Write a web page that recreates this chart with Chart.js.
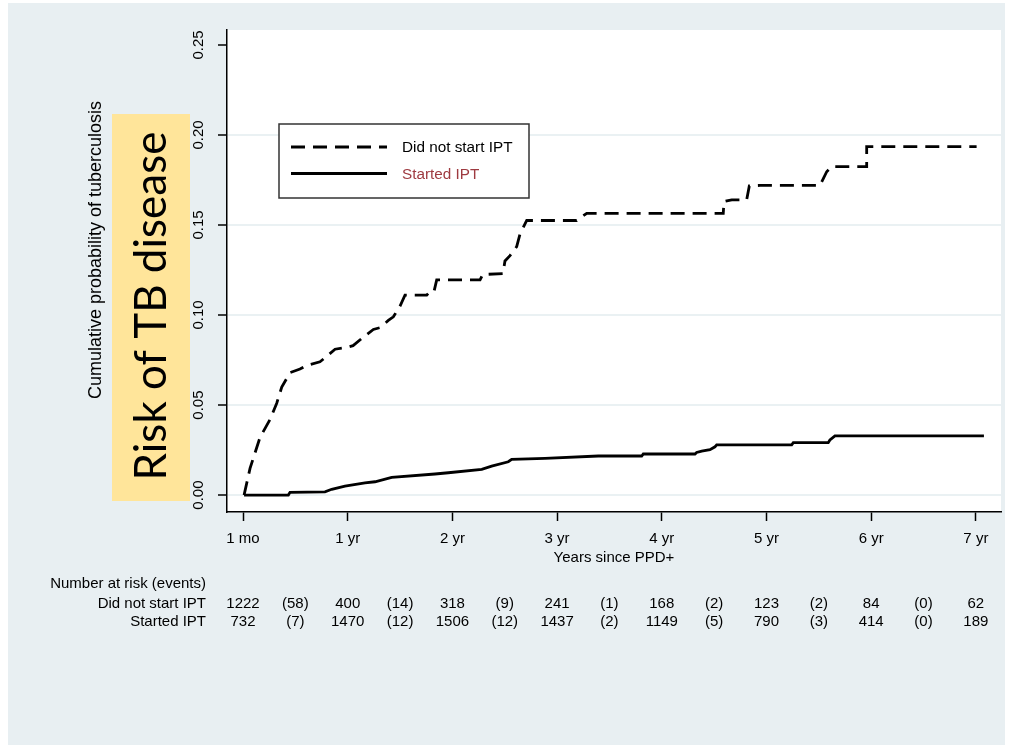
<!DOCTYPE html>
<html>
<head>
<meta charset="utf-8">
<script src="https://cdn.jsdelivr.net/npm/chart.js@4.4.1/dist/chart.umd.min.js"></script>
<style>
  html, body { margin: 0; padding: 0; background: #ffffff; }
  canvas { display: block; }
</style>
</head>
<body>
<canvas id="km" width="1015" height="747"></canvas>
<script>
// Axis ticks (x in years after the 1-month landmark)
const xTickValues = [0, 1, 2, 3, 4, 5, 6, 7];
const xTickLabels = ['1 mo', '1 yr', '2 yr', '3 yr', '4 yr', '5 yr', '6 yr', '7 yr'];
const yTickValues = [0, 0.05, 0.10, 0.15, 0.20, 0.25];
const yTickLabels = ['0.00', '0.05', '0.10', '0.15', '0.20', '0.25'];

const seriesNames = ['Did not start IPT', 'Started IPT'];

// Cumulative incidence, no IPT
const noIptTime = [0.01, 0.067, 0.162, 0.258, 0.322, 0.370, 0.449, 0.544, 0.608, 0.735, 0.799, 0.879, 0.990, 1.051, 1.134, 1.245, 1.309, 1.388, 1.436, 1.500, 1.547, 1.691, 1.755, 1.786, 1.824, 1.850, 2.264, 2.290, 2.483, 2.502, 2.550, 2.614, 2.646, 2.710, 3.187, 3.235, 3.283, 4.587, 4.594, 4.668, 4.811, 4.836, 4.938, 5.511, 5.575, 5.623, 5.957, 5.957, 7.007];
const noIptRisk = [0.000, 0.0148, 0.032, 0.042, 0.051, 0.060, 0.068, 0.070, 0.072, 0.074, 0.077, 0.081, 0.082, 0.083, 0.087, 0.092, 0.093, 0.097, 0.099, 0.105, 0.111, 0.111, 0.1111, 0.113, 0.113, 0.1195, 0.1195, 0.1225, 0.123, 0.130, 0.133, 0.138, 0.145, 0.1525, 0.1525, 0.1545, 0.1565, 0.1565, 0.163, 0.164, 0.164, 0.1717, 0.172, 0.172, 0.1796, 0.1824, 0.1824, 0.1935, 0.1935];

// Cumulative incidence, started IPT
const iptTime = [0.01, 0.433, 0.449, 0.783, 0.847, 0.974, 1.165, 1.261, 1.420, 1.834, 1.961, 2.280, 2.375, 2.534, 2.566, 2.884, 3.394, 3.808, 3.823, 4.317, 4.333, 4.381, 4.460, 4.508, 4.524, 5.241, 5.256, 5.590, 5.606, 5.654, 7.077];
const iptRisk = [0.000, 0.000, 0.0015, 0.0018, 0.0032, 0.005, 0.0068, 0.0074, 0.0098, 0.0117, 0.0124, 0.0143, 0.0161, 0.0185, 0.0198, 0.0204, 0.0217, 0.0217, 0.0228, 0.0228, 0.0237, 0.0244, 0.0252, 0.0268, 0.0279, 0.0279, 0.0291, 0.0291, 0.0306, 0.0329, 0.0329];

// Number-at-risk table
const riskTimes = [0, 1, 2, 3, 4, 5, 6, 7];
const eventTimes = [0.5, 1.5, 2.5, 3.5, 4.5, 5.5, 6.5];
const noIptAtRisk = [1222, 400, 318, 241, 168, 123, 84, 62];
const noIptEvents = [58, 14, 9, 1, 2, 2, 0];
const iptAtRisk = [732, 1470, 1506, 1437, 1149, 790, 414, 189];
const iptEvents = [7, 12, 12, 2, 5, 3, 0];

const SANS = '"Liberation Sans", Arial, Helvetica, sans-serif';
const GRID = '#EAF1F3';
const OUTER = '#E8EFF2';

function toPoints(t, v) { return t.map((x, i) => ({ x: x, y: v[i] })); }

const pagePlugin = {
  id: 'pagePlugin',
  beforeDraw(chart) {
    const { ctx, chartArea: a } = chart;
    ctx.save();
    ctx.fillStyle = '#ffffff';
    ctx.fillRect(0, 0, chart.width, chart.height);
    ctx.fillStyle = OUTER;
    ctx.fillRect(8, 3, 997, 742);
    ctx.fillStyle = '#ffffff';
    ctx.fillRect(a.left, a.top, a.right - a.left, a.bottom - a.top);
    ctx.restore();
  },
  afterDraw(chart) {
    const { ctx, scales: { x, y } } = chart;
    ctx.save();

    // y tick labels, written vertically
    ctx.fillStyle = '#000';
    ctx.font = '15px ' + SANS;
    ctx.textAlign = 'center';
    ctx.textBaseline = 'middle';
    yTickValues.forEach((v, i) => {
      ctx.save();
      ctx.translate(199, y.getPixelForValue(v));
      ctx.rotate(-Math.PI / 2);
      ctx.fillText(yTickLabels[i], 0, 0);
      ctx.restore();
    });

    // y axis title
    ctx.save();
    ctx.translate(96, 250);
    ctx.rotate(-Math.PI / 2);
    ctx.font = '18px ' + SANS;
    ctx.fillText('Cumulative probability of tuberculosis', 0, 0);
    ctx.restore();

    // highlighted annotation
    ctx.fillStyle = '#FFE59A';
    ctx.fillRect(112, 114, 78, 387);
    ctx.save();
    ctx.translate(152, 306);
    ctx.rotate(-Math.PI / 2);
    ctx.fillStyle = '#000';
    ctx.font = '44px Lato, "Open Sans", sans-serif';
    ctx.textAlign = 'center';
    ctx.textBaseline = 'middle';
    ctx.fillText('Risk of TB disease', 0, 0);
    ctx.restore();

    // legend
    ctx.fillStyle = '#ffffff';
    ctx.fillRect(279, 124, 250, 74);
    ctx.strokeStyle = '#333';
    ctx.lineWidth = 1.5;
    ctx.strokeRect(279, 124, 250, 74);
    const rows = [147, 173.5];
    const colors = ['#000000', '#9E3A40'];
    chart.data.datasets.forEach((ds, i) => {
      ctx.beginPath();
      ctx.strokeStyle = ds.borderColor;
      ctx.lineWidth = ds.borderWidth;
      ctx.setLineDash(ds.borderDash || []);
      ctx.moveTo(291, rows[i]);
      ctx.lineTo(387, rows[i]);
      ctx.stroke();
      ctx.setLineDash([]);
      ctx.fillStyle = colors[i];
      ctx.font = '15.3px ' + SANS;
      ctx.textAlign = 'left';
      ctx.textBaseline = 'middle';
      ctx.fillText(ds.label, 402, rows[i] + 1);
    });

    // number at risk table
    ctx.fillStyle = '#000';
    ctx.font = '15px ' + SANS;
    ctx.textBaseline = 'middle';
    ctx.textAlign = 'right';
    ctx.fillText('Number at risk (events)', 206, 584);
    ctx.fillText(seriesNames[0], 206, 604);
    ctx.fillText(seriesNames[1], 206, 622);
    ctx.textAlign = 'center';
    riskTimes.forEach((t, i) => {
      const px = x.getPixelForValue(t);
      ctx.fillText(String(noIptAtRisk[i]), px, 604);
      ctx.fillText(String(iptAtRisk[i]), px, 622);
    });
    eventTimes.forEach((t, i) => {
      const px = x.getPixelForValue(t);
      ctx.fillText('(' + noIptEvents[i] + ')', px, 604);
      ctx.fillText('(' + iptEvents[i] + ')', px, 622);
    });
    ctx.restore();
  }
};

Chart.defaults.color = '#000';

new Chart(document.getElementById('km'), {
  type: 'line',
  data: {
    datasets: [
      {
        label: seriesNames[0],
        data: toPoints(noIptTime, noIptRisk),
        borderColor: '#000000',
        borderWidth: 2.8,
        borderDash: [14, 8],
        pointRadius: 0,
        fill: false
      },
      {
        label: seriesNames[1],
        data: toPoints(iptTime, iptRisk),
        borderColor: '#000000',
        borderWidth: 2.8,
        pointRadius: 0,
        fill: false
      }
    ]
  },
  options: {
    responsive: false,
    animation: false,
    layout: { padding: { left: 0, top: 30, right: 14, bottom: 175 } },
    plugins: { legend: { display: false }, tooltip: { enabled: false } },
    elements: { line: { tension: 0 } },
    scales: {
      x: {
        type: 'linear',
        min: -0.153,
        max: 7.24,
        afterBuildTicks: s => { s.ticks = xTickValues.map(v => ({ value: v })); },
        afterFit: s => { s.height = 60; },
        grid: { drawOnChartArea: false, drawTicks: true, tickLength: 9, tickColor: '#000', tickWidth: 1.5 },
        border: { display: true, color: '#000', width: 1.5 },
        ticks: {
          padding: 9, color: '#000', maxRotation: 0, autoSkip: false,
          font: { family: SANS, size: 15 },
          callback: v => xTickLabels[xTickValues.indexOf(v)]
        },
        title: {
          display: true, text: 'Years since PPD+', color: '#000',
          font: { family: SANS, size: 15 }, padding: { top: 0, bottom: 5 }
        }
      },
      y: {
        type: 'linear',
        min: -0.0094,
        max: 0.2583,
        afterBuildTicks: s => { s.ticks = yTickValues.map(v => ({ value: v })); },
        afterFit: s => { s.width = 227; },
        grid: {
          color: c => (c.tick && c.tick.value >= 0.25 ? 'rgba(0,0,0,0)' : GRID),
          lineWidth: 2, drawTicks: true, tickLength: 9, tickColor: '#000', tickWidth: 1.5
        },
        border: { display: true, color: '#000', width: 1.5 },
        ticks: { display: false }
      }
    }
  },
  plugins: [pagePlugin]
});
</script>
</body>
</html>
